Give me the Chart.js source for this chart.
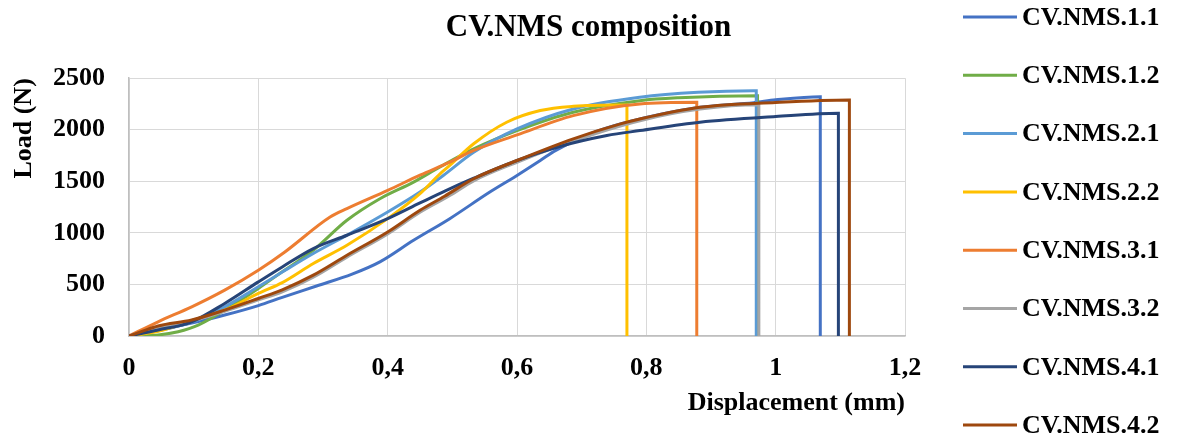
<!DOCTYPE html>
<html>
<head>
<meta charset="utf-8">
<script src="https://cdn.jsdelivr.net/npm/chart.js@4/dist/chart.umd.min.js"></script>
<style>
  body { margin: 0; background: #fff; }
  #wrap { width: 1177px; height: 438px; }
</style>
</head>
<body>
<div id="wrap"><canvas id="myChart"></canvas></div>
<script>
// displacement (mm), load (N)
const nms11 = [[0,0],[0.045,55],[0.097,125],[0.148,203],[0.2,295],[0.237,375],[0.29,485],[0.345,600],[0.388,719],[0.44,928],[0.496,1138],[0.558,1396],[0.6,1557],[0.636,1702],[0.66,1800],[0.713,1960],[0.77,2073],[0.883,2218],[0.966,2263],[1.0,2290],[1.069,2321],[1.069,0]];
const nms12 = [[0,0],[0.02,3],[0.045,10],[0.076,42],[0.107,106],[0.148,251],[0.2,461],[0.233,606],[0.285,832],[0.337,1122],[0.388,1331],[0.44,1492],[0.481,1640],[0.533,1815],[0.6,1992],[0.687,2170],[0.79,2282],[0.85,2310],[0.972,2331],[0.972,0]];
const nms21 = [[0,0],[0.045,50],[0.097,135],[0.148,283],[0.2,477],[0.237,620],[0.285,800],[0.337,977],[0.4,1202],[0.45,1396],[0.486,1557],[0.533,1782],[0.6,2008],[0.687,2202],[0.79,2315],[0.88,2363],[0.966,2379],[0.97,2379],[0.97,0]];
const nms22 = [[0,0],[0.045,45],[0.097,150],[0.148,251],[0.2,413],[0.237,518],[0.285,703],[0.337,880],[0.4,1138],[0.45,1380],[0.481,1573],[0.496,1654],[0.533,1864],[0.584,2073],[0.636,2186],[0.687,2227],[0.767,2240],[0.77,2240],[0.77,0]];
const nms31 = [[0,0],[0.045,138],[0.097,283],[0.148,445],[0.2,638],[0.241,815],[0.311,1154],[0.337,1235],[0.4,1412],[0.45,1560],[0.496,1686],[0.533,1799],[0.6,1950],[0.687,2137],[0.79,2250],[0.878,2266],[0.878,0]];
const nms32 = [[0,0],[0.045,80],[0.097,145],[0.148,240],[0.2,350],[0.237,428],[0.285,570],[0.337,765],[0.4,990],[0.45,1200],[0.496,1362],[0.533,1505],[0.6,1685],[0.687,1892],[0.79,2088],[0.883,2200],[0.974,2242],[0.974,0]];
const nms41 = [[0,0],[0.045,58],[0.097,138],[0.148,316],[0.2,525],[0.237,670],[0.285,848],[0.337,977],[0.4,1138],[0.45,1290],[0.49,1410],[0.533,1530],[0.6,1702],[0.662,1831],[0.739,1944],[0.79,1992],[0.883,2073],[1.0,2128],[1.097,2160],[1.097,0]];
const nms42 = [[0,0],[0.019,42],[0.045,97],[0.097,155],[0.148,251],[0.2,364],[0.237,448],[0.285,590],[0.337,783],[0.4,1009],[0.45,1219],[0.488,1355],[0.533,1525],[0.6,1702],[0.687,1912],[0.76,2057],[0.79,2105],[0.883,2218],[1.0,2265],[1.114,2289],[1.114,0]];

const seriesLabels = ['CV.NMS.1.1','CV.NMS.1.2','CV.NMS.2.1','CV.NMS.2.2','CV.NMS.3.1','CV.NMS.3.2','CV.NMS.4.1','CV.NMS.4.2'];
const seriesData = [nms11, nms12, nms21, nms22, nms31, nms32, nms41, nms42];
const seriesColors = ['#4472C4','#70AD47','#5B9BD5','#FFC000','#ED7D31','#A5A5A5','#264478','#9E480E'];

Chart.defaults.font.family = "'Liberation Serif', 'Times New Roman', serif";
Chart.defaults.font.weight = 'bold';
Chart.defaults.font.size = 26;
Chart.defaults.color = '#000';

let datasets = [];
for (let i = 0; i < seriesLabels.length; i++) {
  datasets.push({
    label: seriesLabels[i],
    data: seriesData[i].map(p => ({x: p[0], y: p[1]})),
    borderColor: seriesColors[i],
    backgroundColor: seriesColors[i],
    borderWidth: 3,
    pointRadius: 0,
    cubicInterpolationMode: 'monotone',
    order: seriesLabels.length - i   // later series on top, like the original
  });
}

// legend drawn by hand: the built-in one can't space 8 items this far apart
const sideLegend = {
  id: 'sideLegend',
  afterDraw(chart) {
    const ctx = chart.ctx;
    const x0 = chart.chartArea.right + 58;
    ctx.save();
    ctx.font = "bold 26px 'Liberation Serif', 'Times New Roman', serif";
    ctx.textBaseline = 'middle';
    ctx.fillStyle = '#000';
    seriesLabels.forEach((lab, i) => {
      const y = 17 + i * 58.3;
      ctx.strokeStyle = seriesColors[i];
      ctx.lineWidth = 3;
      ctx.beginPath();
      ctx.moveTo(x0, y);
      ctx.lineTo(x0 + 54, y);
      ctx.stroke();
      ctx.fillText(lab, x0 + 59, y + 1);
    });
    ctx.restore();
  }
};

const config = {
  type: 'line',
  data: { datasets: datasets },
  options: {
    responsive: true,
    maintainAspectRatio: false,
    animation: false,
    layout: { padding: 0 },
    plugins: {
      legend: { display: false },
      tooltip: { enabled: false },
      title: {
        display: true,
        text: 'CV.NMS composition',
        font: { size: 31, weight: 'bold' },
        padding: { top: 9, bottom: 32 }
      }
    },
    scales: {
      x: {
        type: 'linear',
        min: 0,
        max: 1.2,
        ticks: {
          stepSize: 0.2,
          padding: 17,
          callback: v => String(Math.round(v * 10) / 10).replace('.', ',')
        },
        grid: { color: '#d9d9d9', lineWidth: 1, drawTicks: false },
        border: { color: '#bfbfbf', width: 1.5 },
        title: {
          display: true,
          text: 'Displacement (mm)',
          align: 'end',
          padding: { top: 0, bottom: 19 }
        },
        afterFit: s => { s.height = 102; }
      },
      y: {
        min: 0,
        max: 2500,
        ticks: { stepSize: 500, padding: 24, callback: v => String(v) },
        grid: { color: '#d9d9d9', lineWidth: 1, drawTicks: false },
        border: { color: '#bfbfbf', width: 1.5 },
        title: {
          display: true,
          text: 'Load (N)',
          align: 'end',
          padding: { top: 9, bottom: 0 }
        },
        afterFit: s => { s.width = 129; }
      },
      // empty axis that only keeps room for the legend on the right
      spacer: {
        position: 'right',
        display: true,
        ticks: { display: false },
        grid: { display: false },
        border: { display: false },
        afterFit: s => { s.width = 272; }
      }
    }
  },
  plugins: [sideLegend]
};

const myChart = new Chart(document.getElementById('myChart'), config);
</script>
</body>
</html>
